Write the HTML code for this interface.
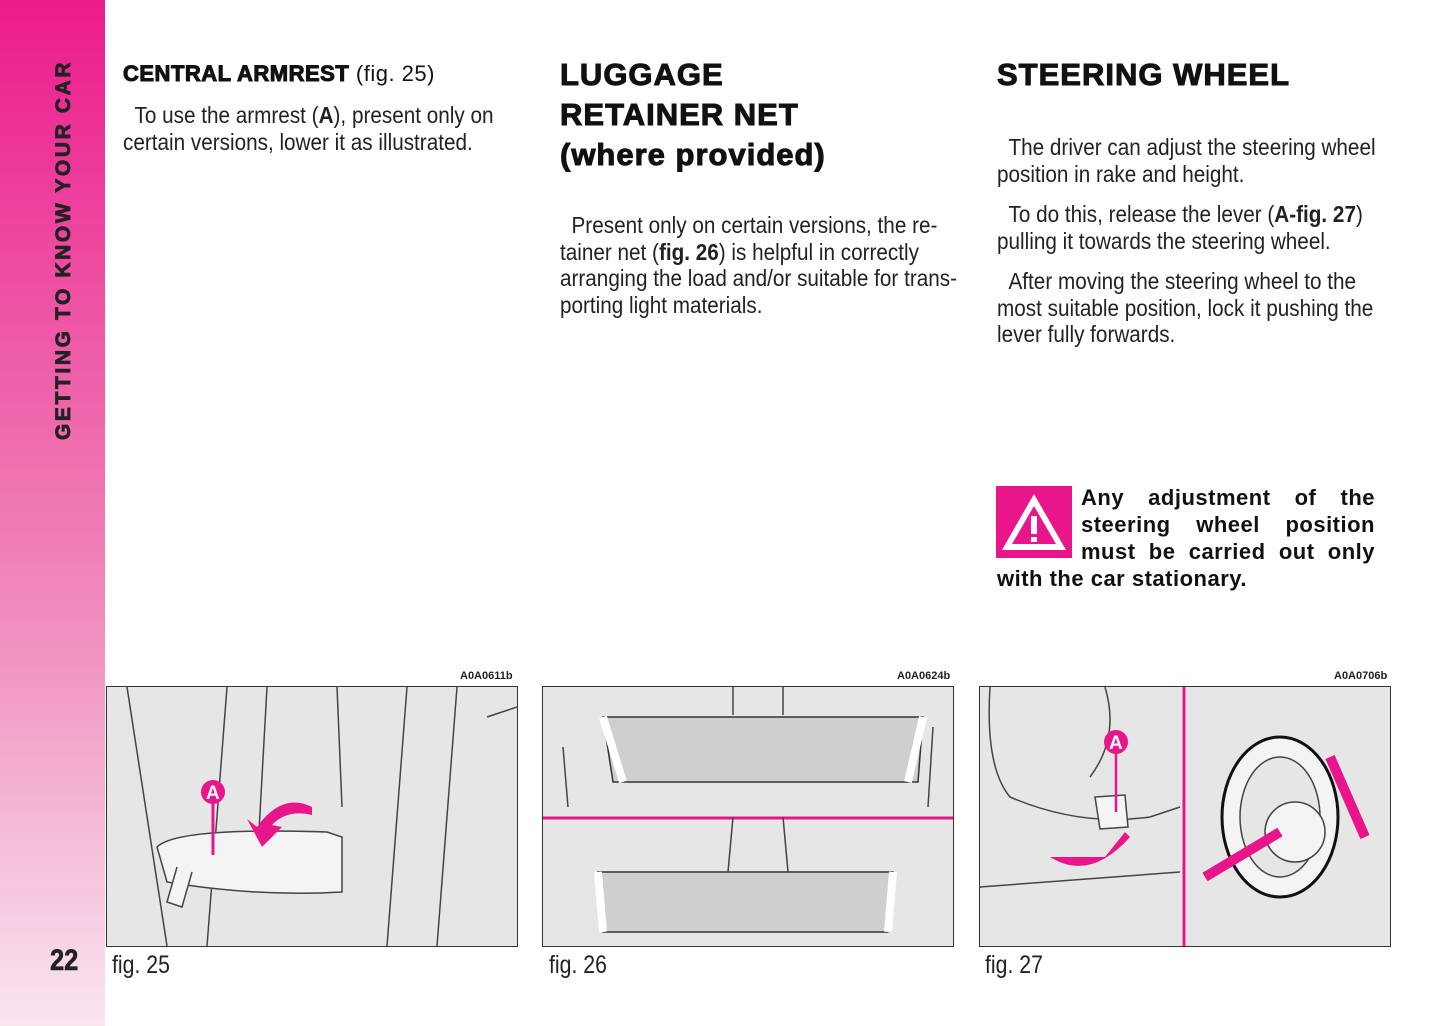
<!DOCTYPE html>
<html><head><meta charset="utf-8"><style>
body{margin:0;width:1445px;height:1026px;background:#fff;position:relative;overflow:hidden;font-family:"Liberation Sans",sans-serif;color:#222}
.side{position:absolute;left:0;top:0;width:105px;height:1026px;background:linear-gradient(#ec1b8c,#f08cbc 60%,#f7cfe3 90%,#fbe6f0)}
.vt{position:absolute;left:52px;top:440px;transform-origin:0 0;transform:rotate(-90deg);font:900 21px "Liberation Sans",sans-serif;letter-spacing:2.6px;white-space:nowrap;color:#222;-webkit-text-stroke:.8px #222}
.pn{position:absolute;left:50px;top:944px;font:900 30px "Liberation Sans",sans-serif;transform:scaleX(.85);transform-origin:0 0;-webkit-text-stroke:.6px #222}
.t{position:absolute;font-size:23px;line-height:26.5px;white-space:nowrap;transform:scaleX(.9);transform-origin:0 0}
.t p{margin:0 0 14px}
h1,h2{position:absolute;margin:0;font-family:"Liberation Sans",sans-serif;font-weight:900;color:#111;-webkit-text-stroke:1px #111;letter-spacing:1px}
h1{font-size:31px;line-height:40px}
.fig{position:absolute;top:686px;width:410px;height:259px;border:1.5px solid #333;background:#e6e6e6;overflow:hidden}
.code{position:absolute;top:670px;font:bold 11px "Liberation Sans",sans-serif}
.cap{position:absolute;top:951px;font-size:25px;transform:scaleX(.85);transform-origin:0 0}
</style></head><body>
<div class="side"></div>
<div class="vt">GETTING TO KNOW YOUR CAR</div>
<div class="pn">22</div>

<h2 style="left:123px;top:61px;font-size:22px;letter-spacing:.5px">CENTRAL ARMREST <span style="font-weight:normal;-webkit-text-stroke:0">(fig. 25)</span></h2>
<div class="t" style="left:123px;top:102px"><p>&nbsp;&nbsp;To use the armrest (<b>A</b>), present only on<br>certain versions, lower it as illustrated.</p></div>

<h1 style="left:560px;top:55px">LUGGAGE<br>RETAINER NET<br>(where provided)</h1>
<div class="t" style="left:560px;top:212px"><p>&nbsp;&nbsp;Present only on certain versions, the re-<br>tainer net (<b>fig. 26</b>) is helpful in correctly<br>arranging the load and/or suitable for trans-<br>porting light materials.</p></div>

<h1 style="left:997px;top:55px">STEERING WHEEL</h1>
<div class="t" style="left:997px;top:134px"><p>&nbsp;&nbsp;The driver can adjust the steering wheel<br>position in rake and height.</p><p>&nbsp;&nbsp;To do this, release the lever (<b>A-fig. 27</b>)<br>pulling it towards the steering wheel.</p><p>&nbsp;&nbsp;After moving the steering wheel to the<br>most suitable position, lock it pushing the<br>lever fully forwards.</p></div>

<svg style="position:absolute;left:996px;top:486px" width="76" height="72"><rect width="76" height="72" fill="#e8168a"/><polygon points="38,8 70,64 6,64" fill="#fff"/><polygon points="38,20 60,58 16,58" fill="#e8168a"/><rect x="35" y="30" width="6" height="18" fill="#fff"/><rect x="35" y="51" width="6" height="5" fill="#fff"/></svg>
<div style="position:absolute;left:997px;top:484px;width:378px;font:900 22px/27px 'Liberation Sans',sans-serif;text-align:justify;color:#111;letter-spacing:.5px"><div style="float:left;width:84px;height:80px"></div>Any adjustment of the steering wheel position must be carried out only with the car stationary.</div>

<div class="code" style="left:460px">A0A0611b</div>
<div class="code" style="left:897px">A0A0624b</div>
<div class="code" style="left:1334px">A0A0706b</div>

<div class="fig" style="left:106px"><svg width="410" height="259" fill="none" stroke="#444" stroke-width="1.5">
<path d="M20 0 L60 259 M120 0 L100 259 M160 0 L150 180 M230 0 L235 120 M300 0 L280 259 M350 0 L330 259 M380 30 L410 20"/>
<path d="M50 160 Q70 140 220 145 L235 150 L235 205 Q150 210 60 195 Z" fill="#f4f4f4"/>
<path d="M70 180 L60 215 L75 220 L85 185" fill="#f4f4f4"/>
<line x1="106" y1="115" x2="106" y2="168" stroke="#e8168a" stroke-width="3"/>
<circle cx="106" cy="105" r="12" fill="#e8168a" stroke="none"/><text x="99" y="112" fill="#fff" stroke="none" font-family="Liberation Sans" font-weight="bold" font-size="19">A</text>
<path d="M205 120 Q175 105 150 140 L140 132 L155 160 L175 140 L165 138 Q180 122 205 128 Z" fill="#e8168a" stroke="none"/>
</svg></div>

<div class="fig" style="left:542px"><svg width="410" height="259" fill="none" stroke="#444" stroke-width="1.5">
<path d="M60 30 L380 30 L375 95 L70 95 Z" fill="#cfcfcf" stroke="#333"/>
<path d="M60 30 L80 95 M380 30 L365 95" stroke-width="8" stroke="#fff"/>
<path d="M55 185 L350 185 L345 245 L60 245 Z" fill="#cfcfcf" stroke="#333"/>
<path d="M55 185 L60 245 M350 185 L345 245" stroke-width="8" stroke="#fff"/>
<line x1="0" y1="131" x2="410" y2="131" stroke="#e8168a" stroke-width="3"/>
<path d="M190 0 L190 28 M240 0 L240 28 M190 130 L185 185 M240 130 L245 185 M20 60 L25 120 M390 40 L385 120"/>
</svg></div>

<div class="fig" style="left:979px"><svg width="410" height="259" fill="none" stroke="#444" stroke-width="1.5">
<line x1="204" y1="0" x2="204" y2="259" stroke="#e8168a" stroke-width="3"/>
<path d="M10 0 Q5 80 30 110 Q100 140 170 130 L200 120 M0 200 L200 185 M125 0 Q140 50 110 90"/>
<path d="M115 110 L145 108 L148 140 L120 142 Z" fill="#f4f4f4"/>
<line x1="136" y1="65" x2="136" y2="125" stroke="#e8168a" stroke-width="2.5"/>
<circle cx="136" cy="55" r="12" fill="#e8168a" stroke="none"/><text x="129" y="62" fill="#fff" stroke="none" font-family="Liberation Sans" font-weight="bold" font-size="19">A</text>
<path d="M70 170 Q110 195 150 150 L145 145 L125 170 Z" fill="#e8168a" stroke="none"/>
<ellipse cx="300" cy="130" rx="58" ry="80" fill="#f4f4f4" stroke="#111" stroke-width="3"/>
<ellipse cx="300" cy="130" rx="40" ry="60" fill="#e6e6e6"/>
<circle cx="315" cy="145" r="30" fill="#f4f4f4"/>
<path d="M225 190 L300 145" stroke="#e8168a" stroke-width="10"/>
<path d="M350 70 L385 150" stroke="#e8168a" stroke-width="10"/>
</svg></div>

<div class="cap" style="left:112px">fig. 25</div>
<div class="cap" style="left:549px">fig. 26</div>
<div class="cap" style="left:985px">fig. 27</div>
</body></html>
